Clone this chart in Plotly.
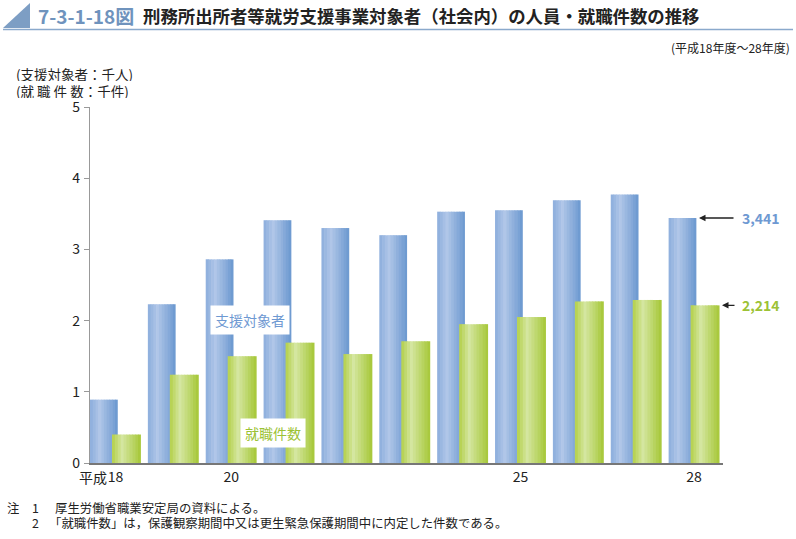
import plotly.graph_objects as go

# ---------------- data ----------------
years = ["H18", "H19", "H20", "H21", "H22", "H23", "H24", "H25", "H26", "H27", "H28"]
support_targets = [0.89, 2.23, 2.86, 3.41, 3.30, 3.20, 3.53, 3.55, 3.69, 3.77, 3.441]   # 千人
job_placements = [0.40, 1.24, 1.50, 1.69, 1.53, 1.71, 1.95, 2.05, 2.27, 2.29, 2.214]    # 千件
tick_pos = [0, 2, 7, 10]
tick_text = ["18", "20", "25", "28"]
y_ticks = [0, 1, 2, 3, 4, 5]

FONT = "Noto Sans CJK JP"
W, H = 796, 539
L, R, T, B = 90, 723, 107, 463

def pxx(x):
    return (x - L) / (R - L)

def pxy(y):
    return (B - y) / (B - T)

def lerp(c1, c2, t):
    return "#%02x%02x%02x" % tuple(int(round(a + (b - a) * t)) for a, b in zip(c1, c2))

def grad(stops, t):
    for i in range(len(stops) - 1):
        p0, c0 = stops[i]
        p1, c1 = stops[i + 1]
        if p0 <= t <= p1:
            return lerp(c0, c1, (t - p0) / (p1 - p0))
    return lerp(stops[-1][1], stops[-1][1], 0)

blue_stops = [(0.0, (0x8c, 0xae, 0xdc)), (0.35, (0xb0, 0xc6, 0xe8)), (1.0, (0x6a, 0x97, 0xcf))]
green_stops = [(0.0, (0xb3, 0xd0, 0x48)), (0.35, (0xd4, 0xe6, 0xa0)), (1.0, (0xa5, 0xc7, 0x36))]

x_idx = list(range(len(years)))
fig = go.Figure()
N = 10

def add_series(values, offset, width, stops, name):
    for i in range(N):
        t = (i + 0.5) / N
        fig.add_trace(go.Bar(
            x=x_idx, y=values, name=name,
            offset=offset + i * width / N, width=width / N * 1.2 if i < N - 1 else width / N,
            marker=dict(color=grad(stops, t), line=dict(width=0)),
            showlegend=False, hoverinfo="skip",
        ))

add_series(support_targets, -0.44, 0.48, blue_stops, "支援対象者")
add_series(job_placements, -0.06, 0.50, green_stops, "就職件数")

ann = []
# header
ann.append(dict(x=pxx(36), y=pxy(15), xref="paper", yref="paper", xanchor="left", yanchor="middle",
                text="<b>7-3-1-18図</b>", showarrow=False, font=dict(family=FONT, size=19, color="#6f93bd")))
ann.append(dict(x=pxx(141), y=pxy(15), xref="paper", yref="paper", xanchor="left", yanchor="middle",
                text="<b>刑務所出所者等就労支援事業対象者（社会内）の人員・就職件数の推移</b>", showarrow=False,
                font=dict(family=FONT, size=17.4, color="#222222")))
ann.append(dict(x=pxx(792), y=pxy(47), xref="paper", yref="paper", xanchor="right", yanchor="middle",
                text="(平成18年度～28年度)", showarrow=False, font=dict(family=FONT, size=12, color="#222222")))
ann.append(dict(x=pxx(14), y=pxy(73), xref="paper", yref="paper", xanchor="left", yanchor="middle", height=15,
                text="(支援対象者：千人)", showarrow=False, font=dict(family=FONT, size=13.5, color="#222222")))
ann.append(dict(x=pxx(14), y=pxy(90), xref="paper", yref="paper", xanchor="left", yanchor="middle", height=15,
                text="(就 職 件 数：千件)", showarrow=False, font=dict(family=FONT, size=13.5, color="#222222")))
# x prefix
ann.append(dict(x=pxx(109), y=pxy(477.5), xref="paper", yref="paper", xanchor="right", yanchor="middle",
                text="平成", showarrow=False, font=dict(family=FONT, size=14, color="#222222")))
# in-chart labels
ann.append(dict(x=pxx(250), y=pxy(320), xref="paper", yref="paper", xanchor="center", yanchor="middle",
                text="支援対象者", showarrow=False, bgcolor="white", borderpad=4,
                font=dict(family=FONT, size=14, color="#6e99d2")))
ann.append(dict(x=pxx(273), y=pxy(433), xref="paper", yref="paper", xanchor="center", yanchor="middle",
                text="就職件数", showarrow=False, bgcolor="white", borderpad=4,
                font=dict(family=FONT, size=14, color="#9cc235")))
# end value callouts
ann.append(dict(x=pxx(699), y=support_targets[-1], xref="paper", yref="y", ax=36, ay=0,
                text="", showarrow=True, arrowhead=2, arrowsize=1, arrowwidth=1.3, arrowcolor="#222222"))
ann.append(dict(x=pxx(740), y=support_targets[-1], xref="paper", yref="y", xanchor="left", yanchor="middle",
                text="<b>%s</b>" % f"{int(round(support_targets[-1]*1000)):,}", showarrow=False,
                font=dict(family=FONT, size=14, color="#6e99d2")))
ann.append(dict(x=pxx(722), y=job_placements[-1], xref="paper", yref="y", ax=14, ay=0,
                text="", showarrow=True, arrowhead=2, arrowsize=1, arrowwidth=1.3, arrowcolor="#222222"))
ann.append(dict(x=pxx(740), y=job_placements[-1], xref="paper", yref="y", xanchor="left", yanchor="middle",
                text="<b>%s</b>" % f"{int(round(job_placements[-1]*1000)):,}", showarrow=False,
                font=dict(family=FONT, size=14, color="#9cc235")))
# footnotes
for txt, xx, yy in [("注", 5, 508), ("1", 30, 508), ("厚生労働省職業安定局の資料による。", 53, 508),
                    ("2", 30, 523), ("「就職件数」は，保護観察期間中又は更生緊急保護期間中に内定した件数である。", 47, 523)]:
    ann.append(dict(x=pxx(xx), y=pxy(yy), xref="paper", yref="paper", xanchor="left", yanchor="middle", height=14,
                    text=txt, showarrow=False, font=dict(family=FONT, size=12.4, color="#222222")))

shapes = [
    dict(type="path", xref="paper", yref="paper",
         path=f"M {pxx(3)} {pxy(28)} L {pxx(30)} {pxy(28)} L {pxx(30)} {pxy(3)} Z",
         fillcolor="#7d9ec4", line=dict(width=0)),
    dict(type="line", xref="paper", yref="paper", x0=pxx(3), x1=pxx(793), y0=pxy(29.5), y1=pxy(29.5),
         line=dict(color="#8aa9cc", width=1.5)),
]

fig.update_layout(
    width=W, height=H, barmode="overlay",
    margin=dict(l=L, r=W - R, t=T, b=H - B, pad=0),
    paper_bgcolor="white", plot_bgcolor="white",
    font=dict(family=FONT, size=14, color="#222222"),
    annotations=ann, shapes=shapes, showlegend=False,
    xaxis=dict(range=[-0.44, 10.5], tickmode="array", tickvals=tick_pos, ticktext=tick_text,
               showline=True, linecolor="#777777", linewidth=2, ticks="", showgrid=False,
               zeroline=False, tickfont=dict(size=14, family=FONT, color="#222222"), fixedrange=True),
    yaxis=dict(range=[0, 5], tickmode="array", tickvals=y_ticks, showline=True, linecolor="#999999",
               linewidth=1.2, ticks="outside", ticklen=5, tickcolor="#999999", showgrid=False,
               zeroline=False, tickfont=dict(size=14, family=FONT, color="#222222"), ticklabelstandoff=1),
)

fig.write_html("out.html", config={"displayModeBar": False},
               post_script="document.body.style.margin='0';document.body.style.overflow='hidden';")
